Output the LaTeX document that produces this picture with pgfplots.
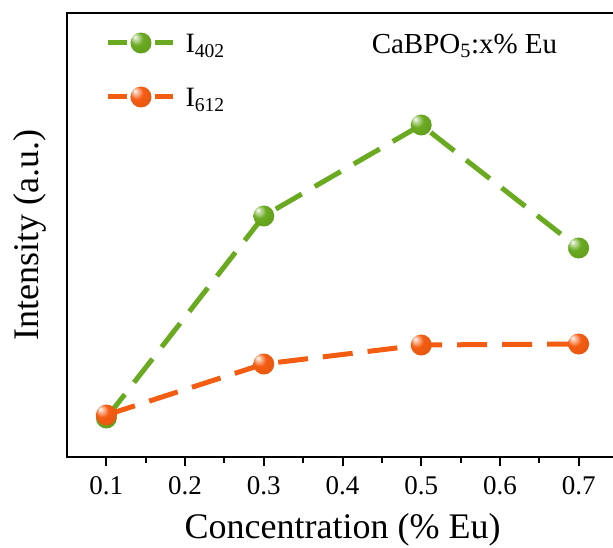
\documentclass[border=0pt]{standalone}
\usepackage{fontspec}
\setmainfont{Liberation Serif}
\usepackage{pgfplots}
\pgfplotsset{compat=1.18}

\definecolor{grn}{RGB}{106,170,32}
\definecolor{org}{RGB}{244,92,18}

% shaded balls for the markers
\pgfdeclareradialshading{gballsh}{\pgfpoint{-15bp}{15bp}}{color(0bp)=(white); color(5bp)=(grn!35!white); color(16bp)=(grn); color(40bp)=(grn!90!black); color(50bp)=(grn!78!black)}
\pgfdeclareradialshading{oballsh}{\pgfpoint{-15bp}{15bp}}{color(0bp)=(white); color(5bp)=(org!35!white); color(16bp)=(org); color(40bp)=(org!92!black); color(50bp)=(org!82!black)}
\pgfdeclareplotmark{gball}{\pgfpathcircle{\pgfpointorigin}{\pgfplotmarksize}\pgfshadepath{gballsh}{0}\pgfusepath{discard}}
\pgfdeclareplotmark{oball}{\pgfpathcircle{\pgfpointorigin}{\pgfplotmarksize}\pgfshadepath{oballsh}{0}\pgfusepath{discard}}

\begin{document}
\begin{tikzpicture}
\useasboundingbox (0,0) rectangle (613pt,547pt);
\begin{axis}[
at={(67pt,90pt)}, anchor=south west,
scale only axis,
width=551pt, height=444pt,
xmin=0.05, xmax=0.75,
ymin=0, ymax=444,
axis line style={line width=2.4pt},
xtick={0.1,0.2,0.3,0.4,0.5,0.6,0.7},
minor xtick={0.15,0.25,0.35,0.45,0.55,0.65},
ytick=\empty,
xtick pos=bottom,
tick align=outside,
major tick length=9pt,
minor tick length=6pt,
every tick/.style={line width=2pt, black},
/pgf/number format/assume math mode=true,
/pgf/number format/fixed,
/pgf/number format/fixed zerofill,
/pgf/number format/precision=1,
ticklabel style={font=\fontsize{27}{27}\selectfont},
xticklabel style={anchor=base, yshift=-28pt},
xlabel={Concentration (\% Eu)},
ylabel={Intensity (a.u.)},
label style={font=\fontsize{36}{36}\selectfont},
xlabel style={at={(axis description cs:0.5,0)}, anchor=base, yshift=-81pt},
ylabel style={at={(axis description cs:-0.0526,0.5)}, anchor=base},
clip=false
]

% I402
\addplot[grn, line width=5pt, dash pattern=on 30pt off 15pt,
  mark=gball, mark size=10.5pt, mark options={solid}]
  coordinates {(0.1,39) (0.3,241) (0.5,332) (0.7,209)};

% I612
\addplot[org, line width=5pt, dash pattern=on 30pt off 15pt,
  mark=oball, mark size=10.5pt, mark options={solid}]
  coordinates {(0.1,42) (0.3,93) (0.5,112) (0.7,113)};

% legend
\draw[grn, line width=5pt] (axis cs:0.1021,414) -- (axis cs:0.1262,414)
  (axis cs:0.1618,414) -- (axis cs:0.1847,414);
\addplot[only marks, mark=gball, mark size=10.5pt] coordinates {(0.144,414)};
\node[anchor=west, font=\fontsize{28}{28}\selectfont] at (axis cs:0.1961,411) {I\textsubscript{402}};

\draw[org, line width=5pt] (axis cs:0.1021,360) -- (axis cs:0.1262,360)
  (axis cs:0.1618,360) -- (axis cs:0.1847,360);
\addplot[only marks, mark=oball, mark size=10.5pt] coordinates {(0.144,360)};
\node[anchor=west, font=\fontsize{28}{28}\selectfont] at (axis cs:0.1961,357) {I\textsubscript{612}};

\node[font=\fontsize{29}{29}\selectfont] at (axis cs:0.555,411) {CaBPO\textsubscript{5}:x\% Eu};

\end{axis}
\end{tikzpicture}
\end{document}
